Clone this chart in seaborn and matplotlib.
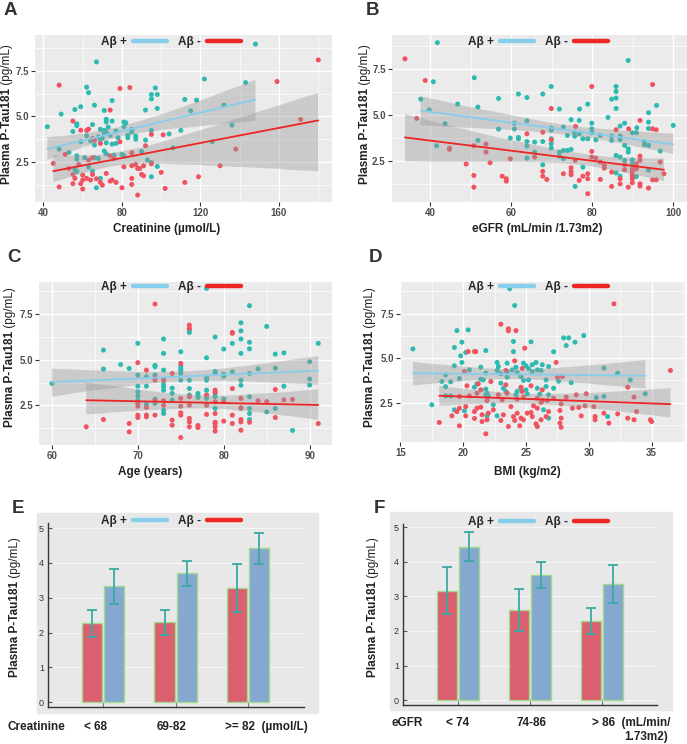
import numpy as np
import pandas as pd
import matplotlib.pyplot as plt
import seaborn as sns
from matplotlib.lines import Line2D
from matplotlib.patches import Rectangle

# ---- DATA ----

# A: creatinine vs p-tau181
a_pos_x = [148, 67, 122, 143, 62, 63, 97, 75, 95, 95, 98, 112, 118, 132, 66, 59, 56, 71, 92, 98,
           115, 49, 42, 136, 57, 57, 65, 72, 72, 75, 81, 82, 81, 69, 71, 73, 71, 72, 77, 85,
           85, 95, 110, 55, 62, 68, 69, 70, 74, 78, 83, 83, 87, 87, 92, 59, 64, 72, 75, 77,
           66, 106, 126, 53, 48, 57, 57, 61, 71, 72, 76, 80, 81, 68, 66, 90, 93, 95, 98, 56,
           57, 63, 65, 67, 95, 69, 104]
a_pos_y = [8.95, 7.98, 7.05, 6.85, 6.6, 6.3, 6.56, 5.87, 6.2, 5.96, 6.2, 5.93, 5.89, 5.62, 5.62, 5.53, 5.38, 5.33, 5.35, 5.44,
           5.31, 5.13, 4.44, 4.53, 4.6, 4.5, 4.56, 4.85, 4.7, 4.75, 4.7, 4.65, 4.44, 4.3, 4.24, 4.42, 4.07, 4.16, 4.2, 4.29,
           4.16, 4.24, 4.24, 4.18, 3.95, 3.89, 3.76, 3.83, 3.98, 3.84, 3.98, 3.84, 3.93, 3.76, 3.71, 3.62, 3.67, 3.56, 3.49, 3.53,
           3.44, 3.29, 3.62, 3.04, 3.22, 2.85, 2.67, 2.75, 3.11, 2.96, 2.89, 2.93, 2.85, 2.71, 2.75, 3.09, 2.62, 2.49, 2.27, 2.11,
           2.0, 2.24, 2.02, 1.11, 1.71, 1.62, 4.05]
a_neg_x = [180, 159, 48, 79, 84, 171, 74, 55, 59, 62, 63, 95, 65, 66, 79, 69, 138, 45, 51, 58,
           63, 65, 74, 76, 85, 81, 85, 89, 91, 87, 95, 100, 130, 53, 55, 56, 60, 60, 62, 64,
           65, 67, 69, 70, 72, 74, 75, 77, 80, 85, 85, 90, 91, 88, 102, 112, 119, 48, 60, 88,
           55, 59, 101, 92]
a_neg_y = [8.09, 6.91, 6.71, 6.53, 6.58, 4.84, 5.35, 4.75, 4.25, 4.24, 4.31, 4.02, 3.8, 3.71, 3.62, 3.53, 3.22, 2.44, 2.93, 2.38,
           2.62, 2.75, 2.85, 2.71, 3.02, 2.25, 2.31, 2.16, 2.31, 2.38, 2.42, 1.95, 2.31, 2.16, 1.84, 1.62, 1.8, 1.53, 1.62, 1.53,
           1.84, 1.6, 1.4, 1.25, 1.89, 1.47, 1.53, 1.4, 1.11, 1.62, 1.29, 1.84, 1.76, 2.16, 1.07, 1.4, 1.71, 1.15, 1.04, 0.71,
           1.33, 1.33, 4.0, 3.4]

# B: eGFR vs p-tau181
b_pos_x = [41.8, 88.9, 50.9, 40.8, 69.9, 85.9, 85.9, 85.9, 61.8, 63.9, 67.8, 56.9, 37.7, 46.8, 51.8, 84.8, 78.9, 85.9, 95.9, 71.9,
           76.9, 39.8, 93.9, 43.7, 83.9, 100, 60.8, 60.8, 63.9, 74.8, 76.8, 79.9, 88, 86.9, 91, 93.9, 93.9, 56.9, 69.9, 69.9,
           72.9, 79.9, 79.9, 82, 75.6, 76.8, 61.8, 61.8, 59.8, 63.9, 63.9, 65.8, 67.8, 69.9, 69.9, 69.9, 73.9, 75.7, 77.7, 78.9,
           80.9, 84.8, 84.8, 86.9, 86.9, 89.9, 90.9, 88, 88.9, 88.9, 92.9, 92.9, 93.9, 96.8, 41.6, 51.8, 63.9, 65.8, 67.8, 71.9,
           72.9, 73.9, 74.8, 71.9, 72.9, 77.7, 85.9, 86.9, 85.9, 86.9, 90.9, 88, 89.9, 89.9, 93.9, 75.8]
b_pos_y = [8.95, 7.98, 7.04, 6.82, 6.56, 6.56, 6.29, 5.93, 6.15, 5.96, 6.15, 5.91, 5.87, 5.6, 5.44, 5.87, 5.6, 5.36, 5.53, 5.33,
           5.33, 5.29, 5.13, 4.53, 4.87, 4.44, 4.56, 4.25, 4.69, 4.75, 4.71, 4.56, 4.56, 4.4, 4.31, 4.62, 4.27, 4.24, 4.29, 4.18,
           4.35, 4.25, 4.04, 3.89, 4.07, 3.98, 3.78, 3.71, 3.75, 3.56, 3.31, 3.53, 3.56, 3.71, 3.44, 3.2, 3.89, 3.85, 3.71, 3.71,
           3.65, 3.85, 3.62, 3.85, 3.67, 4.04, 4.04, 3.35, 3.16, 2.98, 3.56, 3.38, 3.35, 3.04, 3.33, 3.62, 2.65, 2.98, 2.29, 2.98,
           3.07, 3.07, 3.13, 2.76, 2.62, 2.16, 2.8, 2.71, 1.85, 1.67, 1.65, 2.53, 2.56, 2.35, 2.0, 1.11]
b_neg_x = [33.8, 38.8, 36.7, 79.9, 94.9, 69.9, 75.9, 85.9, 89, 91.8, 94.9, 95.8, 44.8, 44.8, 50.8, 53.8, 53.8, 54.8, 48.9, 59.8,
           63.9, 67.8, 69.9, 65.8, 67.8, 67.8, 68.8, 72.9, 74.8, 74.8, 74.8, 75.8, 76.8, 77.7, 78.9, 78.9, 78.9, 79.9, 79.9, 80.9,
           82, 83, 83, 82, 84.8, 84.8, 86.9, 86.9, 88, 88, 88.9, 89.9, 89.9, 89.9, 89.9, 89.9, 90.9, 90.9, 91.8, 91.8,
           91.8, 91.8, 93.9, 94.9, 95.8, 96.8, 97.7, 50.8, 50.8, 57.8, 58.8, 58.8]
b_neg_y = [8.07, 6.89, 4.82, 6.56, 6.67, 5.36, 4.38, 4.2, 4.25, 4.71, 4.25, 4.2, 3.2, 3.13, 3.33, 3.42, 2.98, 2.4, 2.33, 2.62,
           3.98, 4.07, 3.65, 2.71, 1.93, 1.67, 1.49, 1.8, 2.13, 1.93, 1.75, 2.53, 1.44, 1.67, 1.8, 1.53, 0.71, 3.02, 2.71, 2.65,
           2.44, 2.25, 2.11, 1.49, 1.89, 1.11, 1.53, 1.25, 2.29, 2.02, 1.07, 2.07, 1.89, 1.71, 1.53, 1.31, 2.35, 2.07, 2.76, 2.53,
           1.25, 1.13, 1.02, 1.47, 1.47, 2.44, 1.8, 1.71, 1.07, 1.67, 1.53, 1.4]

# C: age vs p-tau181
c_pos_x = [60, 66, 66, 68, 69, 70, 70, 70, 70, 70, 71, 71, 71, 72, 72, 72, 72, 73, 73, 73,
           73, 73, 73, 73, 73, 73, 74, 74, 75, 75, 75, 75, 75, 75, 76, 76, 76, 76, 77, 77,
           77, 78, 78, 78, 78, 78, 78, 79, 79, 79, 79, 79, 80, 80, 80, 81, 81, 82, 82, 82,
           82, 82, 82, 83, 83, 83, 83, 83, 83, 83, 84, 85, 85, 86, 86, 86, 87, 87, 88, 90,
           90, 90, 91, 78, 70, 72, 74, 76, 78, 79, 82, 83, 80]
c_pos_y = [3.7, 5.53, 4.49, 4.74, 4.52, 5.9, 4.16, 3.55, 3.24, 3.0, 4.07, 3.55, 2.56, 4.69, 4.62, 4.16, 2.84, 6.14, 5.35, 4.43,
           3.92, 3.66, 3.52, 3.33, 2.23, 2.05, 3.44, 3.15, 5.44, 4.65, 4.52, 4.4, 4.25, 3.88, 6.63, 6.5, 3.42, 3.88, 3.15, 3.0,
           2.93, 5.11, 4.03, 3.88, 3.33, 3.06, 2.88, 6.25, 4.36, 4.25, 3.15, 2.97, 5.59, 4.21, 4.1, 5.9, 4.34, 7.03, 6.59, 6.14,
           5.35, 3.88, 3.6, 7.97, 5.96, 5.6, 4.25, 2.97, 2.33, 1.72, 4.5, 6.83, 2.14, 5.31, 4.54, 2.33, 5.38, 3.55, 1.12, 4.89,
           3.94, 3.61, 5.9, 8.92, 2.75, 2.6, 2.78, 3.06, 2.51, 2.33, 2.33, 2.05, 2.85]
c_neg_x = [64, 66, 69, 69, 70, 70, 70, 70, 70, 71, 71, 71, 71, 72, 72, 72, 72, 72, 73, 73,
           73, 74, 74, 74, 75, 75, 75, 75, 75, 75, 76, 76, 76, 76, 76, 76, 76, 77, 77, 78,
           78, 78, 79, 79, 79, 79, 79, 79, 79, 79, 80, 80, 81, 81, 81, 81, 81, 82, 82, 82,
           82, 82, 83, 84, 86, 86, 88, 91, 87, 85]
c_neg_y = [1.32, 1.72, 1.5, 1.04, 4.84, 2.6, 2.45, 1.96, 1.83, 4.43, 2.38, 1.96, 1.87, 8.06, 4.01, 3.88, 2.75, 1.96, 3.88, 2.75,
           2.5, 4.25, 1.69, 1.41, 4.8, 2.88, 2.45, 2.09, 1.96, 0.73, 6.9, 6.72, 2.97, 2.51, 1.78, 1.59, 1.32, 1.39, 1.28, 3.06,
           2.51, 2.0, 3.33, 3.22, 2.69, 2.05, 1.57, 1.5, 1.32, 1.08, 2.69, 1.63, 6.5, 6.45, 3.42, 1.96, 1.5, 2.88, 2.36, 1.72,
           1.59, 1.13, 1.57, 2.75, 3.37, 1.83, 2.82, 1.5, 2.8, 2.7]

# D: BMI vs p-tau181
d_pos_x = [23.7, 24.1, 16.0, 19.5, 20.4, 19.9, 19.3, 20.2, 19.8, 21.8, 24.0, 25.4, 24.0, 28.0, 28.4, 28.9, 29.6, 28.2, 27.2, 18.6,
           19.0, 18.3, 18.6, 19.3, 19.9, 20.5, 21.4, 21.8, 19.7, 21.1, 21.4, 22.7, 22.8, 22.7, 23.0, 23.5, 23.5, 23.5, 23.0, 23.2,
           23.4, 23.9, 24.2, 24.3, 24.6, 24.8, 25.0, 25.2, 25.5, 25.8, 25.5, 25.9, 26.2, 25.2, 24.6, 24.3, 24.2, 25.0, 25.1, 25.9,
           26.1, 26.6, 26.6, 21.6, 21.8, 21.9, 22.0, 18.6, 19.0, 19.3, 17.5, 20.1, 22.7, 21.8, 26.4, 26.8, 31.5, 31.2, 30.6, 31.2,
           32.3, 33.3, 34.5, 27.6, 27.2, 28.6, 26.8, 26.3, 24.8, 22.4, 21.9, 26.8, 20.9]
d_pos_y = [8.9, 7.96, 5.52, 6.55, 6.59, 5.9, 5.6, 5.32, 5.13, 5.43, 5.94, 5.92, 5.37, 6.14, 6.14, 5.9, 6.27, 5.71, 5.36, 4.06,
           3.67, 3.69, 3.4, 4.57, 4.76, 4.34, 4.49, 4.16, 3.86, 3.56, 3.82, 4.76, 4.53, 4.31, 4.12, 4.72, 4.25, 3.93, 3.6, 3.31,
           3.13, 4.34, 4.49, 4.19, 3.97, 3.75, 4.57, 4.42, 4.63, 4.76, 4.25, 4.34, 4.31, 3.78, 3.31, 3.13, 2.94, 3.22, 2.99, 3.31,
           2.98, 3.78, 3.41, 3.78, 3.26, 3.03, 2.85, 2.88, 2.88, 2.1, 2.38, 2.04, 1.76, 2.94, 2.1, 1.63, 1.72, 2.85, 2.79, 4.44,
           4.16, 3.78, 3.0, 3.71, 3.31, 3.63, 4.53, 4.63, 4.72, 2.38, 1.76, 2.94, 3.37]
d_neg_x = [32.0, 23.0, 23.6, 23.6, 24.2, 24.9, 20.4, 20.9, 21.0, 24.1, 27.4, 36.5, 23.4, 24.7, 20.1, 20.3, 21.2, 22.2, 23.4, 24.6,
           27.5, 27.9, 26.3, 25.4, 24.7, 23.5, 22.8, 21.4, 19.7, 20.5, 21.1, 21.9, 23.1, 24.3, 24.8, 25.9, 26.3, 27.2, 28.2, 29.0,
           29.8, 33.1, 33.6, 33.8, 32.3, 33.1, 33.6, 35.0, 31.2, 30.5, 30.5, 29.7, 29.2, 28.7, 27.8, 27.7, 27.8, 27.7, 27.8, 26.7,
           26.8, 26.2, 25.9, 25.6, 25.4, 25.5, 25.1, 24.8, 24.3, 24.6, 23.8, 24.0, 24.1, 23.6, 24.5, 23.2, 23.0, 22.4, 22.0, 21.9,
           21.4, 21.5, 21.1, 20.9, 20.2, 20.2, 19.7, 19.5, 21.8, 19.1, 18.1, 19.7, 20.9, 21.5, 26.6, 26.2, 25.8, 25.9, 29.4, 30.4,
           34.9, 31.6]
d_neg_y = [8.05, 6.91, 6.65, 6.54, 6.55, 5.56, 5.37, 5.37, 5.37, 4.85, 4.76, 4.31, 4.31, 4.42, 4.25, 3.45, 3.56, 3.69, 3.5, 3.37,
           3.93, 3.97, 3.22, 3.45, 3.13, 3.03, 2.94, 3.22, 2.85, 2.88, 3.03, 2.62, 2.66, 2.7, 2.81, 2.75, 2.62, 2.75, 2.81, 2.94,
           3.0, 3.37, 2.81, 2.0, 1.87, 1.63, 1.54, 1.44, 1.91, 1.72, 1.54, 2.32, 2.23, 2.19, 2.43, 2.06, 1.63, 1.35, 1.12, 2.62,
           2.0, 2.51, 2.19, 2.32, 1.95, 1.72, 1.91, 1.54, 1.91, 1.63, 2.28, 1.72, 1.5, 1.16, 1.2, 1.82, 1.5, 2.1, 1.91, 1.54,
           2.25, 1.82, 2.19, 2.0, 2.28, 1.76, 2.19, 2.0, 0.75, 1.76, 1.39, 1.2, 1.61, 1.44, 1.72, 1.54, 1.31, 1.16, 1.76, 2.28,
           1.54, 1.35]

# E / F: group means with error bar limits
e_cats = ["< 68", "69-82", ">= 82"]
e_neg_mean = [2.28, 2.31, 3.27]
e_neg_lo = [1.88, 1.94, 2.58]
e_neg_hi = [2.66, 2.66, 3.96]
e_pos_mean = [3.33, 3.70, 4.43]
e_pos_lo = [2.82, 3.34, 3.98]
e_pos_hi = [3.83, 4.05, 4.87]

f_cats = ["< 74", "74-86", "> 86"]
f_neg_mean = [3.16, 2.60, 2.29]
f_neg_lo = [2.48, 1.99, 1.91]
f_neg_hi = [3.84, 3.20, 2.65]
f_pos_mean = [4.43, 3.61, 3.36]
f_pos_lo = [4.03, 3.24, 2.81]
f_pos_hi = [4.85, 3.98, 3.90]

# ---- STYLE ----
POS_PT = "#2DBAB1"
NEG_PT = "#F0525F"
POS_LINE = "#87CEEB"
NEG_LINE = "#EE2525"
BAR_RED = "#EF4B60"
BAR_BLUE = "#79A7DC"
ERR_COL = "#3AAAA3"
TXT = "#222222"

sns.set_theme(style="white")
plt.rcParams['font.family'] = ['Liberation Sans', 'DejaVu Sans']

W, H = 687, 744
fig = plt.figure(figsize=(W / 100, H / 100), dpi=100)


def rect(l, t, r, b):
    # pixel box -> figure fraction
    return [l / W, 1 - b / H, (r - l) / W, (b - t) / H]


def add_legend(ax, cx, cy):
    hs = [Line2D([], [], color=POS_LINE, lw=3.2), Line2D([], [], color=NEG_LINE, lw=3.2)]
    ax.legend(hs, ["Aβ +", "Aβ -"], loc="center", bbox_to_anchor=(cx / W, 1 - cy / H),
              bbox_transform=fig.transFigure, ncol=2, frameon=False, markerfirst=False,
              handlelength=2.9, handletextpad=0.5, columnspacing=0.9,
              prop={"weight": "bold", "size": 8.5})


def ylab(x, bottom):
    t = fig.text(x / W, 1 - bottom / H, "Plasma P-Tau181", rotation=90, ha="center", va="bottom",
                 fontsize=8.5, fontweight="bold", color=TXT)
    fig.axes[-1].annotate(" (pg/mL)", xy=(0.5, 1.0), xycoords=t, rotation=90, ha="center",
                          va="bottom", fontsize=8.5, color=TXT)


def letter(x, y, s):
    fig.text(x / W, 1 - y / H, s, fontsize=13.5, fontweight="bold", color="#333333", ha="left", va="top")


def scatter_panel(box, px, py, nx, ny, xlim, ylim, xt, xminor):
    ax = fig.add_axes(box)
    ax.set_facecolor("#EBEBEB")
    df = pd.DataFrame({"x": px + nx, "y": py + ny,
                       "grp": ["pos"] * len(px) + ["neg"] * len(nx)})
    sns.scatterplot(data=df, x="x", y="y", hue="grp", palette={"pos": POS_PT, "neg": NEG_PT},
                    s=13, linewidth=0, legend=False, ax=ax, zorder=2)
    for xs, ys, c in ((px, py, POS_LINE), (nx, ny, NEG_LINE)):
        n0 = len(ax.collections)
        sns.regplot(x=np.array(xs, float), y=np.array(ys, float), scatter=False, color=c,
                    line_kws={"lw": 1.3, "zorder": 4}, seed=7, ax=ax)
        for coll in ax.collections[n0:]:
            coll.set_facecolor("#999999")
            coll.set_alpha(0.4)
            coll.set_edgecolor("none")
            coll.set_zorder(3)
    ax.set_xlim(xlim)
    ax.set_ylim(ylim)
    ax.set_xticks(xt)
    ax.set_xticks(xminor, minor=True)
    ax.set_yticks([2.5, 5.0, 7.5])
    ax.set_yticklabels(["2.5", "5.0", "7.5"])
    ax.set_yticks([1.25, 3.75, 6.25, 8.75], minor=True)
    ax.grid(which="major", color="white", lw=1.0)
    ax.grid(which="minor", color="white", lw=0.5)
    ax.set_axisbelow(True)
    for sp in ax.spines.values():
        sp.set_visible(False)
    ax.tick_params(which="major", length=3, width=0.8, color="#333333", labelsize=7,
                   labelcolor="#4D4D4D", pad=1.5, bottom=True, left=True)
    ax.tick_params(which="minor", length=0)
    for lab in ax.get_xticklabels() + ax.get_yticklabels():
        lab.set_fontweight("bold")
    ax.set_xlabel("")
    ax.set_ylabel("")
    return ax


def bar_panel(box, bg, cats, nm, nlo, nhi, pm, plo, phi, ytop):
    fig.add_artist(Rectangle((bg[0], bg[1]), bg[2], bg[3], transform=fig.transFigure,
                             color="#E8E8E8", zorder=0))
    ax = fig.add_axes(box)
    ax.set_facecolor("#E8E8E8")
    df = pd.DataFrame({"cat": cats * 2, "grp": ["neg"] * 3 + ["pos"] * 3, "val": nm + pm})
    sns.barplot(data=df, x="cat", y="val", hue="grp", order=cats, hue_order=["neg", "pos"],
                palette={"neg": BAR_RED, "pos": BAR_BLUE}, width=0.612, gap=0.09,
                edgecolor="#A3D98F", linewidth=1.0, errorbar=None, legend=False, ax=ax, zorder=2)
    xs = [p.get_x() + p.get_width() / 2 for p in ax.patches]
    m = np.array(nm + pm)
    lo = np.array(nlo + plo)
    hi = np.array(nhi + phi)
    ax.errorbar(xs, m, yerr=[m - lo, hi - m], fmt="none", ecolor=ERR_COL, elinewidth=1.3,
                capsize=3.5, capthick=1.3, zorder=3)
    ax.set_xlim(-0.76, 2.77)
    ax.set_ylim(-0.14, ytop)
    ax.set_yticks([0, 1, 2, 3, 4, 5])
    ax.set_xticks([0, 1, 2])
    ax.set_xticklabels(["", "", ""])
    ax.yaxis.grid(True, color="#F6F6F6", lw=0.8)
    ax.set_axisbelow(True)
    ax.spines["top"].set_visible(False)
    ax.spines["right"].set_visible(False)
    for s in ("left", "bottom"):
        ax.spines[s].set_color("#333333")
        ax.spines[s].set_linewidth(1.0)
    ax.tick_params(axis="y", direction="in", length=3, width=0.8, color="#555555",
                   labelsize=6.5, labelcolor="#333333", pad=3, left=True)
    ax.tick_params(axis="x", direction="in", length=4, width=0.8, color="#777777", bottom=True)
    ax.set_xlabel("")
    ax.set_ylabel("")
    return ax


# ---- SCATTER PANELS ----
axA = scatter_panel(rect(35, 35, 332, 202), a_pos_x, a_pos_y, a_neg_x, a_neg_y,
                    (35.7, 187), (0.33, 9.45), [40, 80, 120, 160], [60, 100, 140, 180])
add_legend(axA, 171, 42)
ylab(7, 184)
fig.text(167 / W, 1 - 229 / H, "Creatinine (µmol/L)", ha="center", va="center",
         fontsize=8.5, fontweight="bold", color=TXT)
letter(4, 2, "A")

axB = scatter_panel(rect(392, 35, 687, 202), b_pos_x, b_pos_y, b_neg_x, b_neg_y,
                    (30.6, 103.4), (0.26, 9.37), [40, 60, 80, 100], [50, 70, 90])
add_legend(axB, 538, 42)
ylab(365, 184)
fig.text(537 / W, 1 - 229 / H, "eGFR (mL/min /1.73m2)", ha="center", va="center",
         fontsize=8.5, fontweight="bold", color=TXT)
letter(366, 2, "B")

axC = scatter_panel(rect(39, 282, 332, 445), c_pos_x, c_pos_y, c_neg_x, c_neg_y,
                    (58.5, 92.6), (0.32, 9.27), [60, 70, 80, 90], [65, 75, 85])
add_legend(axC, 171, 287)
ylab(10, 427)
fig.text(150 / W, 1 - 472 / H, "Age (years)", ha="center", va="center",
         fontsize=8.5, fontweight="bold", color=TXT)
letter(7, 249, "C")

axD = scatter_panel(rect(400, 282, 685, 442), d_pos_x, d_pos_y, d_neg_x, d_neg_y,
                    (14.97, 37.66), (0.29, 9.28), [15, 20, 25, 30, 35], [17.5, 22.5, 27.5, 32.5, 37.5])
add_legend(axD, 538, 287)
ylab(370, 427)
fig.text(527 / W, 1 - 472 / H, "BMI (kg/m2)", ha="center", va="center",
         fontsize=8.5, fontweight="bold", color=TXT)
letter(369, 249, "D")

# ---- BAR PANELS ----
axE = bar_panel(rect(48, 523, 304, 707), rect(37, 513, 318, 713), e_cats,
                e_neg_mean, e_neg_lo, e_neg_hi, e_pos_mean, e_pos_lo, e_pos_hi, 5.15)
add_legend(axE, 171, 521)
ylab(15, 677)
letter(12, 500, "E")
fig.text(7 / W, 1 - 727 / H, "Creatinine", ha="left", va="center", fontsize=8.5, fontweight="bold", color=TXT)
fig.text(95 / W, 1 - 727 / H, e_cats[0], ha="center", va="center", fontsize=8.5, fontweight="bold", color=TXT)
fig.text(172 / W, 1 - 727 / H, e_cats[1], ha="center", va="center", fontsize=8.5, fontweight="bold", color=TXT)
fig.text(225 / W, 1 - 727 / H, e_cats[2] + "  (µmol/L)", ha="left", va="center", fontsize=8.5,
         fontweight="bold", color=TXT)

axF = bar_panel(rect(403, 524, 657, 705), rect(390, 512, 672, 710), f_cats,
                f_neg_mean, f_neg_lo, f_neg_hi, f_pos_mean, f_pos_lo, f_pos_hi, 5.09)
add_legend(axF, 538, 522)
ylab(373, 677)
letter(374, 500, "F")
fig.text(392 / W, 1 - 723 / H, "eGFR", ha="left", va="center", fontsize=8.5, fontweight="bold", color=TXT)
fig.text(458 / W, 1 - 723 / H, f_cats[0], ha="center", va="center", fontsize=8.5, fontweight="bold", color=TXT)
fig.text(531 / W, 1 - 723 / H, f_cats[1], ha="center", va="center", fontsize=8.5, fontweight="bold", color=TXT)
fig.text(592 / W, 1 - 723 / H, f_cats[2] + "  (mL/min/", ha="left", va="center", fontsize=8.5,
         fontweight="bold", color=TXT)
fig.text(624 / W, 1 - 737 / H, "1.73m2)", ha="left", va="center", fontsize=8.5,
         fontweight="bold", color=TXT)

fig.savefig("out.png", dpi=100, facecolor="white")
